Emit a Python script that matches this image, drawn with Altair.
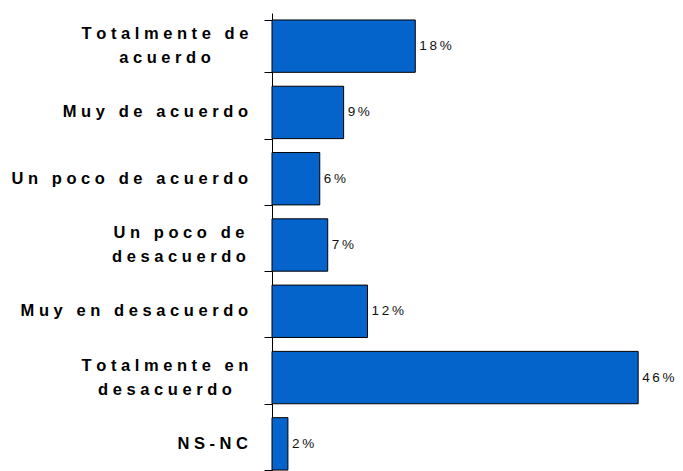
import altair as alt
import pandas as pd

categories = [
    "Totalmente de acuerdo",
    "Muy de acuerdo",
    "Un poco de acuerdo",
    "Un poco de desacuerdo",
    "Muy en desacuerdo",
    "Totalmente en desacuerdo",
    "NS-NC",
]
values = [18, 9, 6, 7, 12, 46, 2]

line_breaks = {
    "Totalmente de acuerdo": ["Totalmente de", "acuerdo"],
    "Un poco de desacuerdo": ["Un poco de", "desacuerdo"],
    "Totalmente en desacuerdo": ["Totalmente en", "desacuerdo"],
}

NB = "\u00a0"
THIN = "\u2009"


def spaced(text):
    return (NB * 3).join(NB.join(w) for w in text.split(" "))


labels = ["|".join(spaced(l) for l in line_breaks.get(c, [c])) for c in categories]
multi = [c in line_breaks for c in categories]
value_text = [THIN.join(f"{v}%") for v in values]

df = pd.DataFrame({
    "cat": categories,
    "val": values,
    "label": labels,
    "multi": multi,
    "vtxt": value_text,
})

base = alt.Chart(df)

y = alt.Y(
    "cat:N",
    sort=categories,
    scale=alt.Scale(paddingInner=0.21, paddingOuter=0.105),
    axis=alt.Axis(
        labels=False,
        title=None,
        grid=False,
        domainColor="#000000",
        domainWidth=1,
        tickColor="#000000",
        tickSize=8,
        tickWidth=1,
        tickBand="extent",
    ),
)
x = alt.X("val:Q", scale=alt.Scale(domain=[0, 50]), axis=None)

bars = base.mark_bar(color="#0564CC", stroke="#000000", strokeWidth=1).encode(x=x, y=y)

vals = base.mark_text(
    align="left", baseline="middle", dx=4,
    font="Liberation Sans", fontSize=13.5, color="#111111",
).encode(x=x, y=y, text="vtxt:N")

single = base.transform_filter("!datum.multi").mark_text(
    align="right", baseline="middle",
    font="Liberation Sans", fontSize=16.5, fontWeight="bold", color="#000000",
    lineBreak="|",
).encode(x=alt.value(-24), y=y, text="label:N")

multi_lbl = base.transform_filter("datum.multi").transform_calculate(
    lx="datum.cat == 'Un poco de desacuerdo' ? -93 : -107"
).mark_text(
    align="center", baseline="middle", dy=-12,
    font="Liberation Sans", fontSize=16.5, fontWeight="bold", color="#000000",
    lineBreak="|", lineHeight=24,
).encode(x=alt.X("lx:Q", scale=None, axis=None), y=y, text="label:N")

chart = alt.layer(bars, vals, single, multi_lbl).properties(
    width=398,
    height=464,
    autosize="none",
    padding={"left": 264, "top": 5, "right": 5, "bottom": 0},
).configure_view(stroke=None)

chart.save("out.html", embed_options={"renderer": "svg", "actions": False})
